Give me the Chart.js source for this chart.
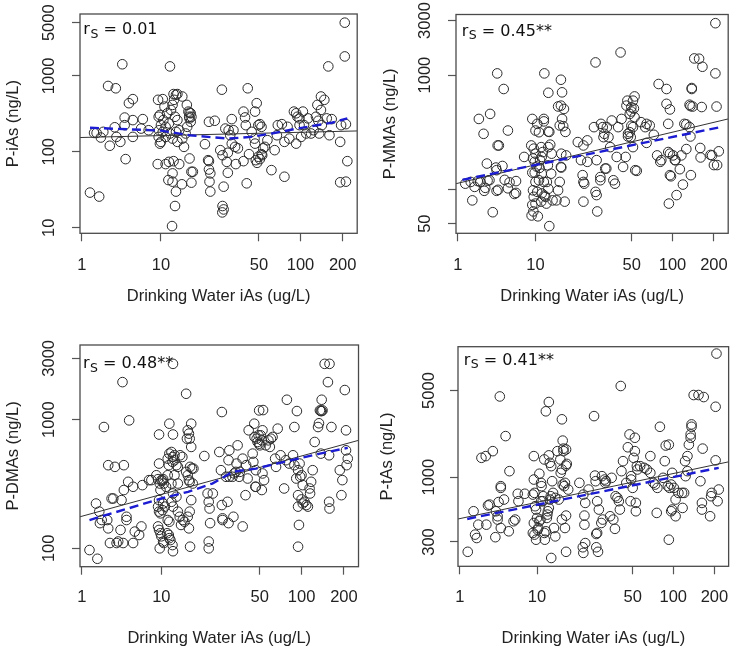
<!DOCTYPE html>
<html>
<head>
<meta charset="utf-8">
<script src="https://cdn.jsdelivr.net/npm/chart.js@4.4.0/dist/chart.umd.min.js"></script>
<style>
  html, body { margin: 0; padding: 0; background: #fff; }
  #wrap { position: relative; width: 742px; height: 649px; }
  #wrap canvas { position: absolute; }
</style>
</head>
<body>
<div id="wrap">
  <canvas id="c1" width="371" height="325" style="left:0;top:0"></canvas>
  <canvas id="c2" width="371" height="325" style="left:371px;top:0"></canvas>
  <canvas id="c3" width="371" height="324" style="left:0;top:325px"></canvas>
  <canvas id="c4" width="371" height="324" style="left:371px;top:325px"></canvas>
</div>
<script>
// ---- data ----
const X_TITLE = 'Drinking Water iAs (ug/L)'
const X_TICKS = [1, 10, 50, 100, 200]
// spacing of those ticks on the original axis (it is not a plain log axis)
const X_TICK_POS = [0, 80, 179, 221, 263.6]

const P1_POINTS = [
  [1.27,29],[1.66,25.7],[1.43,177],[1.54,177],[1.74,154],[1.87,183],[2.15,735],[2.26,120],[2.61,210],[2.69,685],
  [2.74,157],[3.07,135],[3.25,1420],[3.48,224],[3.48,282],[3.58,80],[3.94,436],[4.42,493],[4.42,157],[4.42,261],
  [5.62,202],[5.9,269],[7.0,192],
  [9.2,483],[10.3,493],[10.6,393],[9.7,305],[9.36,289],[10.4,261],[10,224],[9.5,192],[10.3,183],[9.36,157],
  [10.8,157],[10,135],[9.7,128],[10.8,213],[11.4,236],[11.1,321],[11.8,355],[12.1,414],[12.4,483],[12.8,563],
  [12.3,575],[12.6,289],[13.1,261],[11.6,174],[12.1,149],[12.8,183],[13.5,192],[13.1,135],[9.1,68.8],[10.8,68.8],
  [11.4,73.6],[12.1,51.9],[11.3,42.4],[12.1,40.4],[12.8,29.9],[12.3,75.2],[13.5,68.8],[12.6,19.3],[12.0,10.5],
  [11.6,1330],[14.1,37.3],[13.1,575],[14.2,534],
  [15.3,414],[15.7,338],[16.0,327],[16.3,321],[15.9,289],[16.0,275],[16.3,248],[15.4,213],[16.5,289],[16.0,81.6],
  [16.5,54.5],[16.9,54.5],[16.5,39.2],[15.0,174],[14.6,116],[14.2,149],
  [20.6,126],[22.0,248],[24.2,256],[21.7,77.5],[22.0,75.2],[22.0,58.4],[22.5,51.9],[22.2,40.4],[22.5,29.9],
  [27.2,657],[26.5,105],[27.5,90],[28.0,34.7],[27.5,19.3],[28.0,17.4],[27.4,15.9],[29.5,73.6],[30.0,52.9],[30.0,97],
  [28.8,202],[30.4,192],[31.2,165],[32.0,269],[32.9,192],[32.0,128],[33.8,116],[34.2,68.8],[35.4,111],
  [38.8,338],[39.8,283],[40.3,224],[41.6,685],[40.9,38.4],[38.8,75.2],[42.5,93],[44.4,183],[46.9,338],[48.2,436],
  [46.5,149],[46.9,128],[47.5,77.5],[48.5,71.5],[49.5,224],[50.8,231],[52.2,213],[49.5,86],[52.2,93],[53.7,111],
  [55.2,116],[50.8,80],[52.8,90],
  [57.6,142],[61.6,57.3],[65.0,105],[67.5,165],[68.5,224],[73.3,231],[76.5,46.9],[76.5,135],
  [80.6,213],[83.0,149],[89.6,338],[93.0,321],[95.0,289],[98.4,224],[93.0,128],[98.4,275],[101,157],[104,338],
  [106,224],[110,174],[113,275],[119,174],[124,192],[129,289],[134,256],[132,414],[140,534],[148,483],[140,355],
  [142,224],[136,174],[154,275],[158,1330],[161,165],[167,269],
  [195,224],[192,135],[207,5010],[207,1800],[211,231],[216,75.2],[192,39.6],[211,40.4]
]
const P2_POINTS = [
  [1.25,112],[1.47,116],[1.65,105],[1.81,118],[1.96,116],[2.19,97],[2.26,103],[2.42,119],[2.56,120],[3.16,97],
  [3.31,99],[3.16,147],[3.10,155],[3.76,160],[4.02,121],[4.42,102],[4.64,115],[5.36,91],[5.62,93],[5.62,118],
  [1.54,80],[1.87,413],[2.61,457],[2.15,306],[3.26,242],[3.38,242],[2.37,168],[4.42,327],[3.22,1034],[3.90,755],
  [2.82,63],[7.15,192],
  [8.82,242],[9.5,227],[10,205],[9.1,413],[10,327],[9.29,186],[9.77,174],[10.2,158],[9.1,140],[9.77,140],
  [10,116],[9.29,98],[9.5,86],[10,75],[9.1,73],[9.39,64],[8.91,59],[10.4,58],[10.3,95],[10.6,120],
  [10.8,180],[11.1,192],[11.3,212],[11.0,234],[11.5,413],[11.5,393],[10.3,374],[10.6,316],[10.7,154],[11.1,137],
  [11.5,116],[11.1,92],[11.8,86],[11.0,78],[11.6,88],[12.0,75],[12.4,101],[12.1,116],[12.3,162],[12.8,246],
  [12.4,234],[12.6,318],[12.4,320],[11.6,1034],[12.4,700],[13.1,205],[12.6,47.6],[13.0,137],[13.3,80],
  [14.2,80],[14.6,98],[15.0,116],[15.3,157],[15.4,205],[15.3,540],[14.6,531],[16.1,505],[15.6,413],[15.6,706],
  [15.3,910],[15.0,362],[15.9,357],[16.5,318],[16.7,198],[16.3,78],[15.4,155],
  [20.3,259],[22.3,242],[23.8,268],[22.0,133],[22.3,116],[22.6,112],[22.3,78],[21.4,180],[23.8,174],[26.6,350],
  [27.3,1290],[27.8,180],[27.3,95],[27.8,89],[28.1,64],[29.6,128],[29.6,120],[29.9,374],[30.8,350],[31.2,286],
  [31.6,306],[32.1,152],[32.7,152],
  [33.0,350],[33.9,286],[34.9,234],[35.8,400],[36.8,120],[37.8,112],[38.9,192],[39.9,350],[41.5,1577],[42.2,413],
  [43.3,157],[45.2,192],[45.8,540],[46.5,597],[47.0,290],[47.0,306],[48.4,316],[49.2,286],[49.7,522],[51.1,597],
  [51.9,510],[52.5,650],[49.7,480],[51.1,234],[48.4,457],[51.1,350],[49.7,360],[53.1,147],[54.5,145],[52.5,427],
  [58.6,387],[62.9,350],[64.4,374],[67.9,362],[64.4,255],
  [72.8,300],[77.0,198],[79.0,835],[81.2,174],[82.7,180],[90.3,755],[90.3,560],[93.0,374],[93.0,212],[95.7,205],
  [95.7,500],[95.7,133],[97.4,130],[94.0,75],[101,198],[104,180],[105,180],[107,89],[113,150],[116,198],[119,110],
  [122,374],[126,225],[126,370],[133,350],[133,550],[135,535],[138,755],[138,770],[140,530],[135,290],[136,133],
  [159,230],[160,190],[163,525],[144,1398],[156,1390],[165,1182],[189,200],[194,198],[200,163],[205,2844],
  [205,1034],[209,530],[211,163],[217,215]
]
const P3_POINTS = [
  [1.25,97],[1.57,83],[1.51,223],[1.66,193],[1.69,157],[1.78,166],[2.09,166],[2.15,143],[2.15,443],[2.26,110],
  [2.37,244],[2.49,244],[2.61,430],[2.74,110],[2.87,113],[3.07,139],[3.16,237],[3.31,110],[3.38,443],[3.25,1959],
  [3.38,284],[3.65,166],[3.83,329],[3.94,988],[4.42,301],[4.42,110],[4.64,135],[5.26,127],[5.62,148],[5.78,310],
  [7.0,339],[7.5,339],[1.90,877],[3.65,176],
  [8.66,370],[9.1,345],[9.36,767],[9.36,456],[9.55,319],[9.75,284],[9.36,237],[10,339],[10.2,336],[10.3,345],
  [10.4,319],[9.1,211],[9.36,193],[9.75,187],[10.2,198],[10.3,223],[10.6,211],[9.1,148],[9.36,139],[9.75,131],
  [10,124],[10.3,113],[10.4,110],[9.55,100],[11.1,166],[11.4,161],[11.0,131],[11.3,127],[11.4,120],[11.6,116],
  [12.0,106],[12.1,95],[11.8,561],[12.1,513],[12.0,470],[11.3,443],[11.1,498],[11.4,545],[11.1,370],[10.8,301],
  [11.8,319],[12.1,267],[12.1,211],[11.8,230],[12.4,370],[12.8,443],[13.1,430],[12.4,529],[12.4,484],[13.6,529],
  [14.1,513],[13.1,319],[12.8,252],[13.1,193],[13.5,176],[14.2,166],[13.8,152],[14.6,161],[12.1,2717],[11.4,931],
  [12.1,767],
  [15.0,1591],[15.4,827],[15.7,779],[15.9,712],[15.2,712],[16.3,931],[16.3,614],[15.0,393],[15.4,370],[15.9,329],
  [16.0,430],[16.5,417],[15.7,339],[16.3,237],[15.9,193],[15.4,176],[15.7,143],[16.0,103],[16.9,417],[16.7,319],
  [20.2,522],[21.3,267],[21.7,230],[22.0,204],[22.2,157],[23.2,267],[21.7,113],[21.7,100],[25.8,561],[26.5,405],
  [26.9,1147],[26.9,217],[27.2,171],[27.2,166],[28.8,360],[29.5,230],[30.0,157],[30.0,484],[30.4,578],[30.4,360],
  [32.0,360],[32.5,176],
  [32.9,382],[33.8,393],[34.8,632],[34.2,456],[35.7,360],[36.1,393],[37.8,498],[37.8,148],[39.6,259],[40.0,443],
  [41.0,349],[41.7,827],[44.5,545],[45.0,470],[45.7,931],[45.9,734],[46.9,405],[46.9,301],[46.5,301],[47.5,712],
  [48.2,671],[49.0,756],[49.5,651],[50,632],[49.5,1181],[50.8,756],[51.7,691],[51.7,284],[52.3,827],[52.8,1188],
  [53.7,339],[52.3,382],[55.2,632],[57.7,691],[59.1,614],[60.1,712],[61.8,734],[67.3,852],[64.5,498],[65.5,430],
  [70.6,529],[74.9,292],[77.1,484],[78.4,1429],[81.5,456],[86.8,529],[88.8,877],[88.8,443],[91.6,349],[92.6,1167],
  [94.4,405],[94.4,259],[94.4,211],[95.8,152],[94.4,103],[97.8,360],[100,370],[96.8,456],[100,240],[102,223],
  [102,310],
  [105,230],[108,217],[111,211],[114,292],[117,329],[115,267],[120,405],[124,671],[131,877],[133,938],[135,1181],
  [137,1167],[139,1429],[139,1167],[141,1181],[137,545],[146,2717],[154,1959],[158,2717],[163,877],[157,529],
  [157,230],[158,204],[187,405],[192,259],[195,339],[203,1700],[207,827],[207,578],[209,443],[213,498]
]
const P4_POINTS = [
  [1.27,250],[1.51,531],[1.58,344],[1.66,323],[1.74,414],[1.91,1433],[2.17,1479],[2.21,414],[2.32,592],[2.43,601],
  [2.68,1622],[2.89,328],[2.94,531],[3.09,484],[3.09,455],[3.18,630],[3.30,4480],[3.40,846],[3.40,820],[3.40,389],
  [3.74,660],[3.92,2145],[4.31,366],[4.40,1118],[4.97,441],[5.22,455],[5.63,735],[5.75,640],[6.95,735],
  [9.1,1479],[9.1,957],[9.27,747],[8.83,724],[9.45,583],[9.72,548],[9.1,427],[8.83,355],[9.27,344],[9.72,313],
  [10.1,377],[10.2,389],[10.4,1066],[10.7,900],[10.8,846],[10.0,469],[10.4,441],[10.6,455],[10.7,640],[11.0,640],
  [11.1,702],[11.3,1390],[11.3,355],[11.4,313],[11.6,366],[11.8,469],[11.9,499],[12.0,531],[12.2,565],[12.4,660],
  [12.6,702],[12.2,1500],[12.4,1306],[12.7,1227],[12.2,4040],[11.6,3400],[12.9,928],[13.1,747],[12.7,223],[13.3,389],
  [13.6,681],[13.6,333],
  [14.1,1622],[14.8,1390],[15.2,2930],[15.4,1973],[15.6,1622],[15.2,1153],[14.9,1084],[15.4,872],[16.0,900],[15.8,846],
  [15.6,1700],[16.3,1674],[16.5,1280],[16.3,1240],[16.9,795],[15.2,455],[16.0,389],[16.3,490],[16.3,250],[14.4,660],
  [20.4,900],[21.8,724],[22.2,490],[22.2,414],[22.5,620],[21.6,272],[21.8,245],[22.5,294],[23.8,795],[26.1,3110],
  [26.5,1030],[26.8,928],[27.1,348],[27.5,355],[27.5,640],[28.3,548],[29.5,427],[30.2,455],[27.1,272],[27.9,250],
  [29.8,1019],[31.2,957],[31.5,900],[31.9,928],
  [34.2,484],[35.1,988],[36.1,455],[37.1,383],[37.5,702],[38.7,681],[39.6,640],[40.3,548],[40.9,5440],[41.4,1118],
  [42.5,1347],[44.9,900],[46.1,1743],[47.4,2213],[48.2,640],[48.7,1019],[48.7,957],[50,820],[50.8,1433],[51.9,2080],
  [51.9,1622],[52.8,620],[52.8,531],[53.7,1227],[54.2,1153],[56.8,1227],
  [60.9,1190],[63.8,1153],[67.6,1479],[67.6,1084],[71.2,900],[73.4,872],[75.4,515],[76.2,820],[79.6,2550],[84.1,988],
  [86.5,1347],[87.9,1800],[92.7,1830],[92.7,313],[91.1,846],[93.7,820],[96.5,872],[96.5,531],[98.1,1084],[98.1,548],
  [101,820],[104,660],[104,484],
  [109,747],[116,747],[120,747],[117,565],[122,1347],[123,1019],[127,1118],[127,1479],[130,1830],[134,2213],
  [136,2665],[136,2550],[134,2080],[141,4600],[153,4600],[167,4430],[158,928],[162,620],[164,1700],[162,548],
  [186,484],[189,702],[191,747],[204,1367],[204,3700],[207,9935],[211,640],[215,795]
]

// solid regression line (ends at the plot edges) and blue dashed fit
const REG_X = [0.95, 254]
const REG1_Y = [154, 188]
const REG2_Y = [112, 413]
const REG3_Y = [176, 691]
const REG4_Y = [460, 1330]
const FIT1_X = [1.27, 10, 16, 30, 44, 62, 95, 167, 216]
const FIT1_Y = [207, 190, 165, 149, 157, 174, 202, 241, 275]
const FIT2_X = [1.15, 223]
const FIT2_Y = [121, 350]
const FIT3_X = [1.25, 10, 15.5, 23, 28, 32, 47, 75, 135, 213]
const FIT3_Y = [166, 244, 275, 319, 360, 393, 417, 470, 545, 604]
const FIT4_X = [1.25, 215]
const FIT4_Y = [460, 1190]

const Y_TITLES = ['P-iAs (ng/L)', 'P-MMAs (ng/L)', 'P-DMAs (ng/L)', 'P-tAs (ng/L)']
const Y_TICKS = [[10, 100, 1000, 5000], [50, 100, 1000, 3000], [100, 1000, 3000], [300, 1000, 5000]]
const Y_RANGES = [[8.44, 6515], [41.2, 3389], [72, 3807], [191, 11290]]
const RS_TEXT = ['0.01', '0.45**', '0.48**', '0.41**']

// ---- x axis: log axis stretched like the original one ----
const LOG_TICKS = X_TICKS.map(Math.log10)

function warp(v) {
    const l = Math.log10(v)
    let i = 0
    while (i < LOG_TICKS.length - 2 && l > LOG_TICKS[i + 1]) i++
    const slope = (X_TICK_POS[i + 1] - X_TICK_POS[i]) / (LOG_TICKS[i + 1] - LOG_TICKS[i])
    return X_TICK_POS[i] + (l - LOG_TICKS[i]) * slope
}

function unwarp(p) {
    let i = 0
    while (i < X_TICK_POS.length - 2 && p > X_TICK_POS[i + 1]) i++
    const slope = (X_TICK_POS[i + 1] - X_TICK_POS[i]) / (LOG_TICKS[i + 1] - LOG_TICKS[i])
    return Math.pow(10, LOG_TICKS[i] + (p - X_TICK_POS[i]) / slope)
}

class WarpLogScale extends Chart.LinearScale {
    determineDataLimits() {
        this.min = this.options.min
        this.max = this.options.max
    }
    buildTicks() {
        return X_TICKS.map(v => ({ value: v }))
    }
    getPixelForValue(v) {
        const a = warp(this.min), b = warp(this.max)
        return this.getPixelForDecimal((warp(v) - a) / (b - a))
    }
    getValueForPixel(p) {
        const a = warp(this.min), b = warp(this.max)
        return unwarp(a + this.getDecimalForPixel(p) * (b - a))
    }
}
WarpLogScale.id = 'warpLog'
WarpLogScale.defaults = {}
Chart.register(WarpLogScale)

// ---- layout of the four panels ----
const LAYOUT = [
    { pad: { top: 14, right: 11 }, yw: 80, xh: 91.7, yTitlePad: 3.5, yTickPad: 3.7, xTickPad: 14, xTitlePad: 18.5, rs: [3.3, 20.3] },
    { pad: { top: 14, right: 6 }, yw: 85, xh: 91.7, yTitlePad: 10, yTickPad: 4.6, xTickPad: 14, xTitlePad: 18.5, rs: [5.7, 21] },
    { pad: { top: 20, right: 12 }, yw: 80, xh: 82.3, yTitlePad: 3.5, yTickPad: 3.7, xTickPad: 12.7, xTitlePad: 1.1, rs: [3, 23.3] },
    { pad: { top: 21.7, right: 3 }, yw: 87, xh: 82.7, yTitlePad: 7, yTickPad: 2.4, xTickPad: 13.5, xTitlePad: 1, rs: [5.7, 18.3] }
]

const SERIES = [
    { pts: P1_POINTS, reg: REG1_Y, fx: FIT1_X, fy: FIT1_Y },
    { pts: P2_POINTS, reg: REG2_Y, fx: FIT2_X, fy: FIT2_Y },
    { pts: P3_POINTS, reg: REG3_Y, fx: FIT3_X, fy: FIT3_Y },
    { pts: P4_POINTS, reg: REG4_Y, fx: FIT4_X, fy: FIT4_Y }
]

const tickFont = { family: '"Liberation Sans", Arial, sans-serif', size: 16.5 }

// plot frame + r_s label
const framePlugin = {
    id: 'frame',
    afterDatasetsDraw(chart, args, opts) {
        const { ctx, chartArea: a } = chart
        ctx.save()
        ctx.strokeStyle = '#4a4a4a'
        ctx.lineWidth = 1.3
        ctx.strokeRect(a.left, a.top, a.right - a.left, a.bottom - a.top)

        ctx.fillStyle = '#111'
        ctx.textBaseline = 'alphabetic'
        ctx.textAlign = 'left'
        let x = a.left + opts.dx
        const y = a.top + opts.dy
        ctx.font = '16px "DejaVu Sans"'
        ctx.fillText('r', x, y)
        x += ctx.measureText('r').width + 0.5
        ctx.font = '12.5px "DejaVu Sans"'
        ctx.fillText('S', x, y + 3.4)
        x += ctx.measureText('S').width
        ctx.font = '16px "DejaVu Sans"'
        ctx.fillText(' = ' + opts.text, x, y)
        ctx.restore()
    }
}

SERIES.forEach((s, i) => {
    const L = LAYOUT[i]
    const ctx = document.getElementById('c' + (i + 1))
    new Chart(ctx, {
        type: 'scatter',
        data: {
            datasets: [
                {
                    data: s.fx.map((x, k) => ({ x: x, y: s.fy[k] })),
                    showLine: true,
                    borderColor: '#1c1cd2',
                    borderWidth: 2.4,
                    borderDash: [9, 5],
                    pointRadius: 0,
                    order: 0
                },
                {
                    data: REG_X.map((x, k) => ({ x: x, y: s.reg[k] })),
                    showLine: true,
                    borderColor: '#333',
                    borderWidth: 1,
                    pointRadius: 0,
                    order: 1
                },
                {
                    data: s.pts.map(p => ({ x: p[0], y: p[1] })),
                    pointRadius: 4.8,
                    pointBorderWidth: 1,
                    pointBorderColor: '#2a2a2a',
                    pointBackgroundColor: 'rgba(0,0,0,0)',
                    order: 2
                }
            ]
        },
        options: {
            responsive: false,
            animation: false,
            devicePixelRatio: 1,
            layout: { padding: { top: L.pad.top, right: L.pad.right, left: 0, bottom: 0 } },
            plugins: {
                legend: { display: false },
                tooltip: { enabled: false },
                frame: { dx: L.rs[0], dy: L.rs[1], text: RS_TEXT[i] }
            },
            scales: {
                x: {
                    type: 'warpLog',
                    min: 0.95,
                    max: 254,
                    afterFit: sc => { sc.height = L.xh },
                    border: { display: false },
                    grid: { drawOnChartArea: false, tickLength: 8, tickColor: '#555', tickWidth: 1.2 },
                    ticks: {
                        autoSkip: false, minRotation: 0, maxRotation: 0, padding: L.xTickPad,
                        color: '#222', font: tickFont,
                        callback: v => String(v)
                    },
                    title: {
                        display: true, text: X_TITLE, color: '#222', font: tickFont,
                        padding: { top: 0, bottom: L.xTitlePad }
                    }
                },
                y: {
                    type: 'logarithmic',
                    min: Y_RANGES[i][0],
                    max: Y_RANGES[i][1],
                    afterBuildTicks: sc => { sc.ticks = Y_TICKS[i].map(v => ({ value: v })) },
                    afterFit: sc => { sc.width = L.yw },
                    border: { display: false },
                    grid: { drawOnChartArea: false, tickLength: 8, tickColor: '#555', tickWidth: 1.2 },
                    ticks: {
                        autoSkip: false, minRotation: 90, maxRotation: 90, crossAlign: 'center',
                        padding: L.yTickPad, color: '#222', font: tickFont,
                        // the 100 label is left off on the MMA panel, as in the original
                        callback: v => (i === 1 && v === 100) ? '' : String(v)
                    },
                    title: {
                        display: true, text: Y_TITLES[i], color: '#222', font: tickFont,
                        padding: { top: L.yTitlePad, bottom: 0 }
                    }
                }
            }
        },
        plugins: [framePlugin]
    })
})
</script>
</body>
</html>
